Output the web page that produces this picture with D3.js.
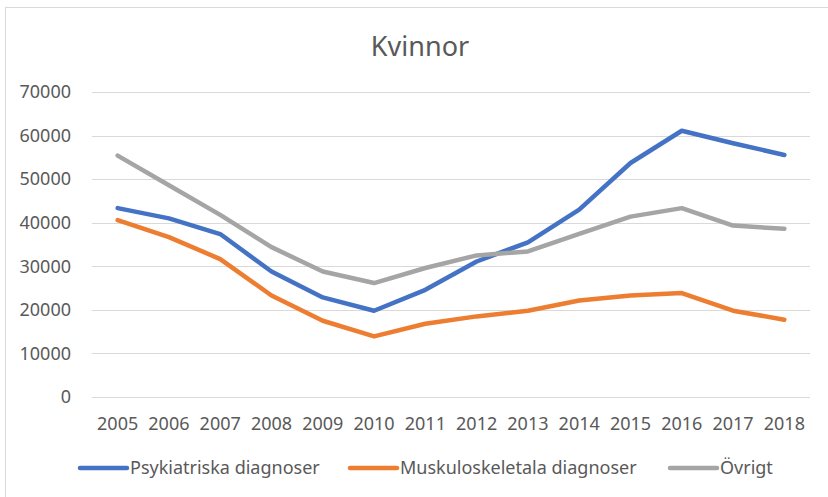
<!DOCTYPE html>
<html>
<head>
<meta charset="utf-8">
<script src="https://cdn.jsdelivr.net/npm/d3@7"></script>
<style>
  body { margin: 0; background: #fff; }
  text { font-family: "Noto Sans", sans-serif; fill: #595959; }
</style>
</head>
<body>
<div id="chart"></div>
<script>
const years = ['2005','2006','2007','2008','2009','2010','2011','2012','2013','2014','2015','2016','2017','2018'];
const psykiatriska = [43350, 41000, 37400, 28800, 22850, 19800, 24600, 31100, 35500, 43000, 53700, 61100, 58250, 55550];
const muskuloskeletala = [40600, 36700, 31650, 23300, 17500, 13900, 16800, 18500, 19800, 22150, 23300, 23850, 19800, 17750];
const ovrigt = [55400, 48600, 41800, 34400, 28800, 26150, 29600, 32500, 33400, 37450, 41400, 43350, 39350, 38600];
const yTicks = [0, 10000, 20000, 30000, 40000, 50000, 60000, 70000];

const series = [
  { name: 'Psykiatriska diagnoser', values: psykiatriska, color: '#4472C4' },
  { name: 'Muskuloskeletala diagnoser', values: muskuloskeletala, color: '#ED7D31' },
  { name: 'Övrigt', values: ovrigt, color: '#A5A5A5' }
];

const width = 828, height = 497;
const margin = { L: 92, R: 18, T: 92, B: 100 };

const svg = d3.select('#chart').append('svg').attr('width', width).attr('height', height);

// chart border
svg.append('rect')
  .attr('x', 5.5).attr('y', 7.5)
  .attr('width', 840).attr('height', 520)
  .attr('fill', 'none').attr('stroke', '#D9D9D9').attr('stroke-width', 1);

const x = d3.scalePoint().domain(years).range([margin.L, width - margin.R]).padding(0.5);
const y = d3.scaleLinear().domain([0, 70000]).range([height - margin.B, margin.T]);

// title
svg.append('text')
  .text('Kvinnor')
  .attr('x', 420).attr('y', 56)
  .attr('text-anchor', 'middle')
  .style('font-size', '27px');

// gridlines
svg.append('g')
  .selectAll('line')
  .data(yTicks)
  .enter().append('line')
  .attr('x1', margin.L).attr('x2', width - margin.R)
  .attr('y1', d => Math.round(y(d)) + 0.5).attr('y2', d => Math.round(y(d)) + 0.5)
  .attr('stroke', '#D9D9D9').attr('stroke-width', 1);

// y tick labels
svg.append('g')
  .selectAll('text')
  .data(yTicks)
  .enter().append('text')
  .text(d => d)
  .attr('x', 71).attr('y', d => y(d))
  .attr('dy', '0.35em')
  .attr('text-anchor', 'end')
  .style('font-size', '18px');

// x labels
svg.append('g')
  .selectAll('text')
  .data(years)
  .enter().append('text')
  .text(d => d)
  .attr('x', d => x(d)).attr('y', 424)
  .attr('dy', '0.35em')
  .attr('text-anchor', 'middle')
  .style('font-size', '18px');

// lines
const line = d3.line()
  .x((d, i) => x(years[i]))
  .y(d => y(d));

svg.append('g')
  .selectAll('path')
  .data(series)
  .enter().append('path')
  .attr('d', d => line(d.values))
  .attr('fill', 'none')
  .attr('stroke', d => d.color)
  .attr('stroke-width', 4.5)
  .attr('stroke-linejoin', 'round')
  .attr('stroke-linecap', 'round');

// legend
const legendX = [80, 350, 670];
const legend = svg.append('g')
  .selectAll('g')
  .data(series)
  .enter().append('g')
  .attr('transform', (d, i) => `translate(${legendX[i]}, 468)`);

legend.append('line')
  .attr('x1', 0).attr('x2', 47)
  .attr('stroke', d => d.color)
  .attr('stroke-width', 4.5)
  .attr('stroke-linecap', 'round');

legend.append('text')
  .text(d => d.name)
  .attr('x', 50)
  .attr('dy', '0.35em')
  .style('font-size', '18px');
</script>
</body>
</html>
